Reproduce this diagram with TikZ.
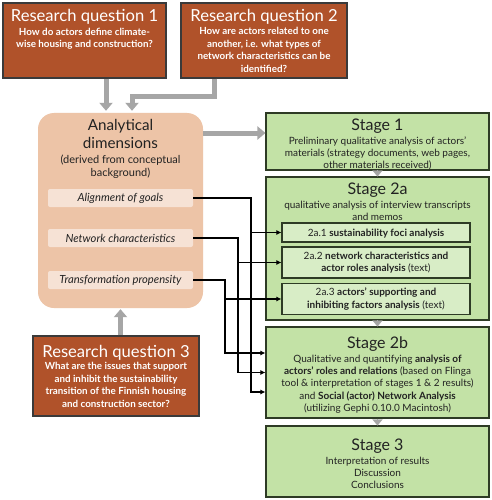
\documentclass[tikz,border=0pt]{standalone}
\usepackage{fontspec}
\setmainfont{Lato}
\usetikzlibrary{arrows.meta}
\definecolor{rqfill}{HTML}{B0522A}
\definecolor{rqedge}{HTML}{3A3A3A}
\definecolor{adfill}{HTML}{EDC4A7}
\definecolor{adin}{HTML}{F6E2D5}
\definecolor{stagefill}{HTML}{C3E2A6}
\definecolor{subfill}{HTML}{D8EDC6}
\definecolor{stageedge}{HTML}{2E3B25}
\definecolor{textdark}{HTML}{222222}
\definecolor{arrgray}{HTML}{A6A6A6}
\begin{document}
\begin{tikzpicture}[x=1pt,y=-1pt,
  rqbox/.style={draw=rqedge,line width=1.1pt,fill=rqfill,inner sep=0pt},
  rqtitle/.style={text=white,font=\fontsize{16.6}{18}\selectfont,anchor=base,inner sep=0pt},
  rqbody/.style={text=white,font=\bfseries\fontsize{9.8}{12.5}\selectfont,align=center,anchor=base,inner sep=0pt},
  adbox/.style={fill=adfill,rounded corners=16pt,inner sep=0pt},
  adinner/.style={fill=adin,rounded corners=2pt,inner sep=0pt,minimum width=145pt,minimum height=18pt,font=\itshape\fontsize{11.2}{13}\selectfont,text=textdark},
  adtitle/.style={text=textdark,font=\fontsize{15.2}{18}\selectfont,align=center,anchor=base,inner sep=0pt},
  adsub/.style={text=textdark,font=\fontsize{11}{13}\selectfont,align=center,anchor=base,inner sep=0pt},
  stagebox/.style={draw=stageedge,line width=1.1pt,fill=stagefill,inner sep=0pt,minimum width=223pt},
  subbox/.style={draw=stageedge,line width=1.1pt,fill=subfill,inner sep=0pt,minimum width=188pt},
  stitle/.style={text=textdark,font=\fontsize{16}{18}\selectfont,anchor=base,inner sep=0pt},
  sbody/.style={text=textdark,font=\fontsize{10}{12.4}\selectfont,align=center,anchor=base,inner sep=0pt},
  grayarr/.style={draw=arrgray,line width=5pt,-{Triangle[width=13pt,length=8pt]}},
  smalltri/.style={draw=arrgray,line width=0.1pt,-{Triangle[width=10pt,length=6pt]}},
  conn/.style={draw=black,line width=1.2pt,-{Latex[length=5pt,width=5pt]}},
]
\useasboundingbox (0,0) rectangle (491,500);
\fill[white] (0,0) rectangle (491,500);

% research questions (multi-line nodes: base = baseline of last line)
\node[rqbox,minimum width=163pt,minimum height=75pt] (rq1) at (84.5,40.5) {};
\node[rqtitle] (rq1t) at (84.5,22) {Research question 1};
\node[rqbody] (rq1b) at (84.5,48) {How do actors define climate-\\wise housing and construction?};

\node[rqbox,minimum width=166pt,minimum height=75pt] (rq2) at (264,40.5) {};
\node[rqtitle] (rq2t) at (264,22) {Research question 2};
\node[rqbody] (rq2b) at (264,72.5) {How are actors related to one\\another, i.e. what types of\\network characteristics can be\\identified?};

\node[rqbox,minimum width=166pt,minimum height=80pt] (rq3) at (116,376) {};
\node[rqtitle] (rq3t) at (116,357) {Research question 3};
\node[rqbody] (rq3b) at (116,407) {What are the issues that support\\and inhibit the sustainability\\transition of the Finnish housing\\and construction sector?};

% analytical dimensions
\node[adbox,minimum width=165pt,minimum height=195pt] (ad) at (120.5,210.5) {};
\node[adtitle] (adt) at (120.5,148) {Analytical\\dimensions};
\node[adsub] (ads) at (120.5,176) {(derived from conceptual\\background)};
\node[adinner] (al) at (120.5,198) {Alignment of goals};
\node[adinner] (net) at (120.5,238) {Network characteristics};
\node[adinner] (tr) at (120.5,280) {Transformation propensity};

% stages
\node[stagebox,minimum height=57pt] (s1) at (377.5,141.5) {};
\node[stitle] (s1t) at (377.5,130.5) {Stage 1};
\node[sbody] (s1b) at (377.5,168.8) {Preliminary qualitative analysis of actors’\\materials (strategy documents, web pages,\\other materials received)};

\node[stagebox,minimum height=143pt] (s2a) at (377.5,248.5) {};
\node[stitle] (s2at) at (377.5,194) {Stage 2a};
\node[sbody] (s2ab) at (377.5,220.6) {qualitative analysis of interview transcripts\\and memos};
\node[subbox,minimum height=19pt] (s21) at (376,232.5) {};
\node[sbody] (s21t) at (376,236) {2a.1 \textbf{sustainability foci analysis}};
\node[subbox,minimum height=31pt] (s22) at (376,262.5) {};
\node[sbody] (s22t) at (376,271.6) {2a.2 \textbf{network characteristics and}\\\textbf{actor roles analysis} (text)};
\node[subbox,minimum height=31pt] (s23) at (376,299) {};
\node[sbody] (s23t) at (376,308.2) {2a.3 \textbf{actors’ supporting and}\\\textbf{inhibiting factors analysis} (text)};

\node[stagebox,minimum height=91pt] (s2b) at (377.5,372.5) {};
\node[stitle] (s2bt) at (377.5,348.5) {Stage 2b};
\node[sbody] (s2bb) at (377.5,411.6) {Qualitative and quantifying \textbf{analysis of}\\\textbf{actors’ roles and relations} (based on Flinga\\tool \& interpretation of stages 1 \& 2 results)\\and \textbf{Social (actor) Network Analysis}\\(utilizing Gephi 0.10.0 Macintosh)};

\node[stagebox,minimum height=71pt] (s3) at (377.5,461.5) {};
\node[stitle] (s3t) at (377.5,450.5) {Stage 3};
\node[sbody] (s3b) at (377.5,488.8) {Interpretation of results\\Discussion\\Conclusions};

% gray connectors
\draw[grayarr,shorten >=2pt] ([xshift=-14.5pt]ad.north |- rq1.south) -- ([xshift=-14.5pt]ad.north);
\draw[grayarr,shorten >=2pt] ([xshift=-50pt]rq2.south) -- ++(0,18) -| ([xshift=11.5pt]ad.north);
\coordinate (s1a) at (0,133);
\draw[grayarr] (ad.east |- s1a) -- (s1.west |- s1a);
\draw[grayarr,shorten >=1pt] (rq3.north -| ad.south) -- (ad.south);
\draw[smalltri] (s1.south) -- (s2a.north);
\draw[smalltri] (s2a.south) -- (s2b.north);
\draw[smalltri] (s2b.south) -- (s3.north);

% black connectors
\coordinate (va) at (251,0);
\coordinate (vn) at (238,0);
\coordinate (vt) at (225,0);
\draw[conn] (al.east) -| (va |- s21.west) -- (s21.west);
\draw[conn] (va |- s21.west) |- ([yshift=-19.5pt]s2b.west);
\draw[conn] (net.east) -| (vn |- s22.west) -- (s22.west);
\draw[conn] (vn |- s22.west) |- (s2b.west);
\draw[conn] (tr.east) -| (vt |- s23.west) -- (s23.west);
\draw[conn] (vt |- s23.west) |- ([yshift=19.5pt]s2b.west);
\end{tikzpicture}
\end{document}
